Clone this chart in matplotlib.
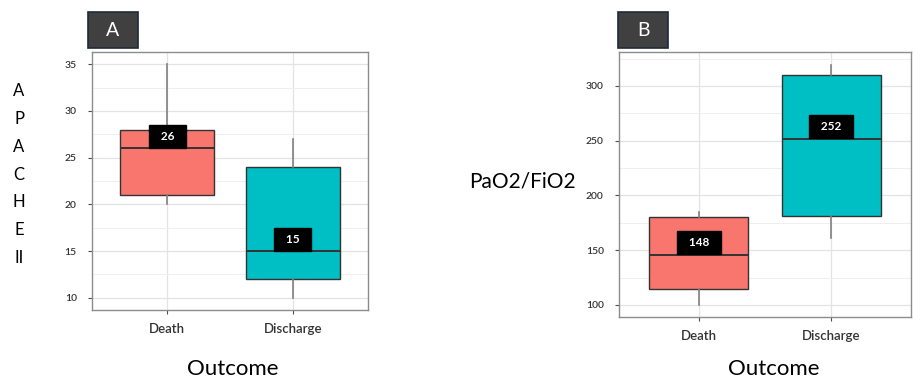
import matplotlib.pyplot as plt
from matplotlib.patches import Rectangle
from matplotlib.ticker import MultipleLocator

plt.rcParams['font.family'] = ['Lato', 'DejaVu Sans']

outcomes = ['Death', 'Discharge']
colors = ['#F8766D', '#00BFC4']

# panel A: APACHE II
apache_low = [20, 10]
apache_q1 = [21, 12]
apache_med = [26, 15]
apache_q3 = [28, 24]
apache_high = [35, 27]
apache_labels = ['26', '15']

# panel B: PaO2/FiO2
pf_low = [100, 161]
pf_q1 = [115, 181]
pf_med = [146, 252]
pf_q3 = [180, 310]
pf_high = [185, 319]
pf_labels = ['148', '252']


def draw_panel(ax, low, q1, med, q3, high, labels, ylim, major, minor):
    stats = []
    for i in range(len(outcomes)):
        stats.append({'whislo': low[i], 'q1': q1[i], 'med': med[i],
                      'q3': q3[i], 'whishi': high[i], 'fliers': []})
    pos = list(range(1, len(outcomes) + 1))
    bp = ax.bxp(stats, positions=pos, widths=0.75, patch_artist=True,
                showcaps=False, zorder=3,
                boxprops=dict(edgecolor='#333333', linewidth=1.0),
                whiskerprops=dict(color='#808080', linewidth=1.2),
                medianprops=dict(color='#333333', linewidth=1.4))
    for patch, c in zip(bp['boxes'], colors):
        patch.set_facecolor(c)
    fs = 8.5
    pad = 0.5
    for p, m, lab in zip(pos, med, labels):
        ax.annotate('\u2002' + lab + '\u2002', xy=(p, m),
                    xytext=(0, pad * fs + 0.3), textcoords='offset points',
                    ha='center', va='bottom', color='white', fontsize=fs,
                    fontweight='bold', zorder=5,
                    bbox=dict(boxstyle='square,pad=%s' % pad, fc='black',
                              ec='black'))
    ax.set_xlim(0.4, 2.6)
    ax.set_ylim(*ylim)
    ax.set_xticks(pos)
    ax.set_xticklabels(outcomes)
    ax.yaxis.set_major_locator(MultipleLocator(major))
    ax.yaxis.set_minor_locator(MultipleLocator(minor))
    ax.grid(True, which='major', color='#e3e3e3', linewidth=0.9, zorder=0)
    ax.grid(True, which='minor', axis='y', color='#efefef', linewidth=0.7, zorder=0)
    ax.set_axisbelow(True)
    for s in ax.spines.values():
        s.set_color('#8c8c8c')
        s.set_linewidth(1.0)
    ax.tick_params(axis='y', which='major', labelsize=7.5, colors='#4d4d4d',
                   length=3, width=0.8, pad=8)
    ax.tick_params(axis='y', which='minor', length=0)
    ax.tick_params(axis='x', labelsize=9.5, colors='#4d4d4d', length=3,
                   width=0.8, pad=6)
    for t in ax.get_xticklabels() + ax.get_yticklabels():
        t.set_color('#333333')
        t.set_fontweight('semibold')


fig = plt.figure(figsize=(9.22, 3.83), dpi=100)
axA = fig.add_axes([0.0998, 0.1906, 0.2994, 0.6736])
axB = fig.add_axes([0.6714, 0.1723, 0.3167, 0.6919])

draw_panel(axA, apache_low, apache_q1, apache_med, apache_q3, apache_high,
           apache_labels, (8.7, 36.3), 5, 2.5)
draw_panel(axB, pf_low, pf_q1, pf_med, pf_q3, pf_high,
           pf_labels, (89, 331), 50, 25)

# axis titles
fig.text(19 / 922, 1 - 174.5 / 383, 'A\nP\nA\nC\nH\nE\nII', ha='center',
         va='center', fontsize=12, linespacing=1.9, color='black')
fig.text(522 / 922, 1 - 182 / 383, 'PaO2/FiO2', ha='center', va='center',
         fontsize=15, color='black')
fig.text(233 / 922, 1 - 369 / 383, 'Outcome', ha='center', va='center',
         fontsize=16, color='black')
fig.text(774 / 922, 1 - 369 / 383, 'Outcome', ha='center', va='center',
         fontsize=16, color='black')

# panel tags
for tag, x0 in [('A', 88), ('B', 618)]:
    fig.add_artist(Rectangle((x0 / 922, 1 - 48 / 383), 50 / 922, 36 / 383,
                             transform=fig.transFigure, fc='#404040',
                             ec='#1f2a3a', lw=1.2))
    fig.text((x0 + 25) / 922, 1 - 30 / 383, tag, ha='center', va='center',
             color='white', fontsize=14)

fig.savefig('out.png', dpi=100)
